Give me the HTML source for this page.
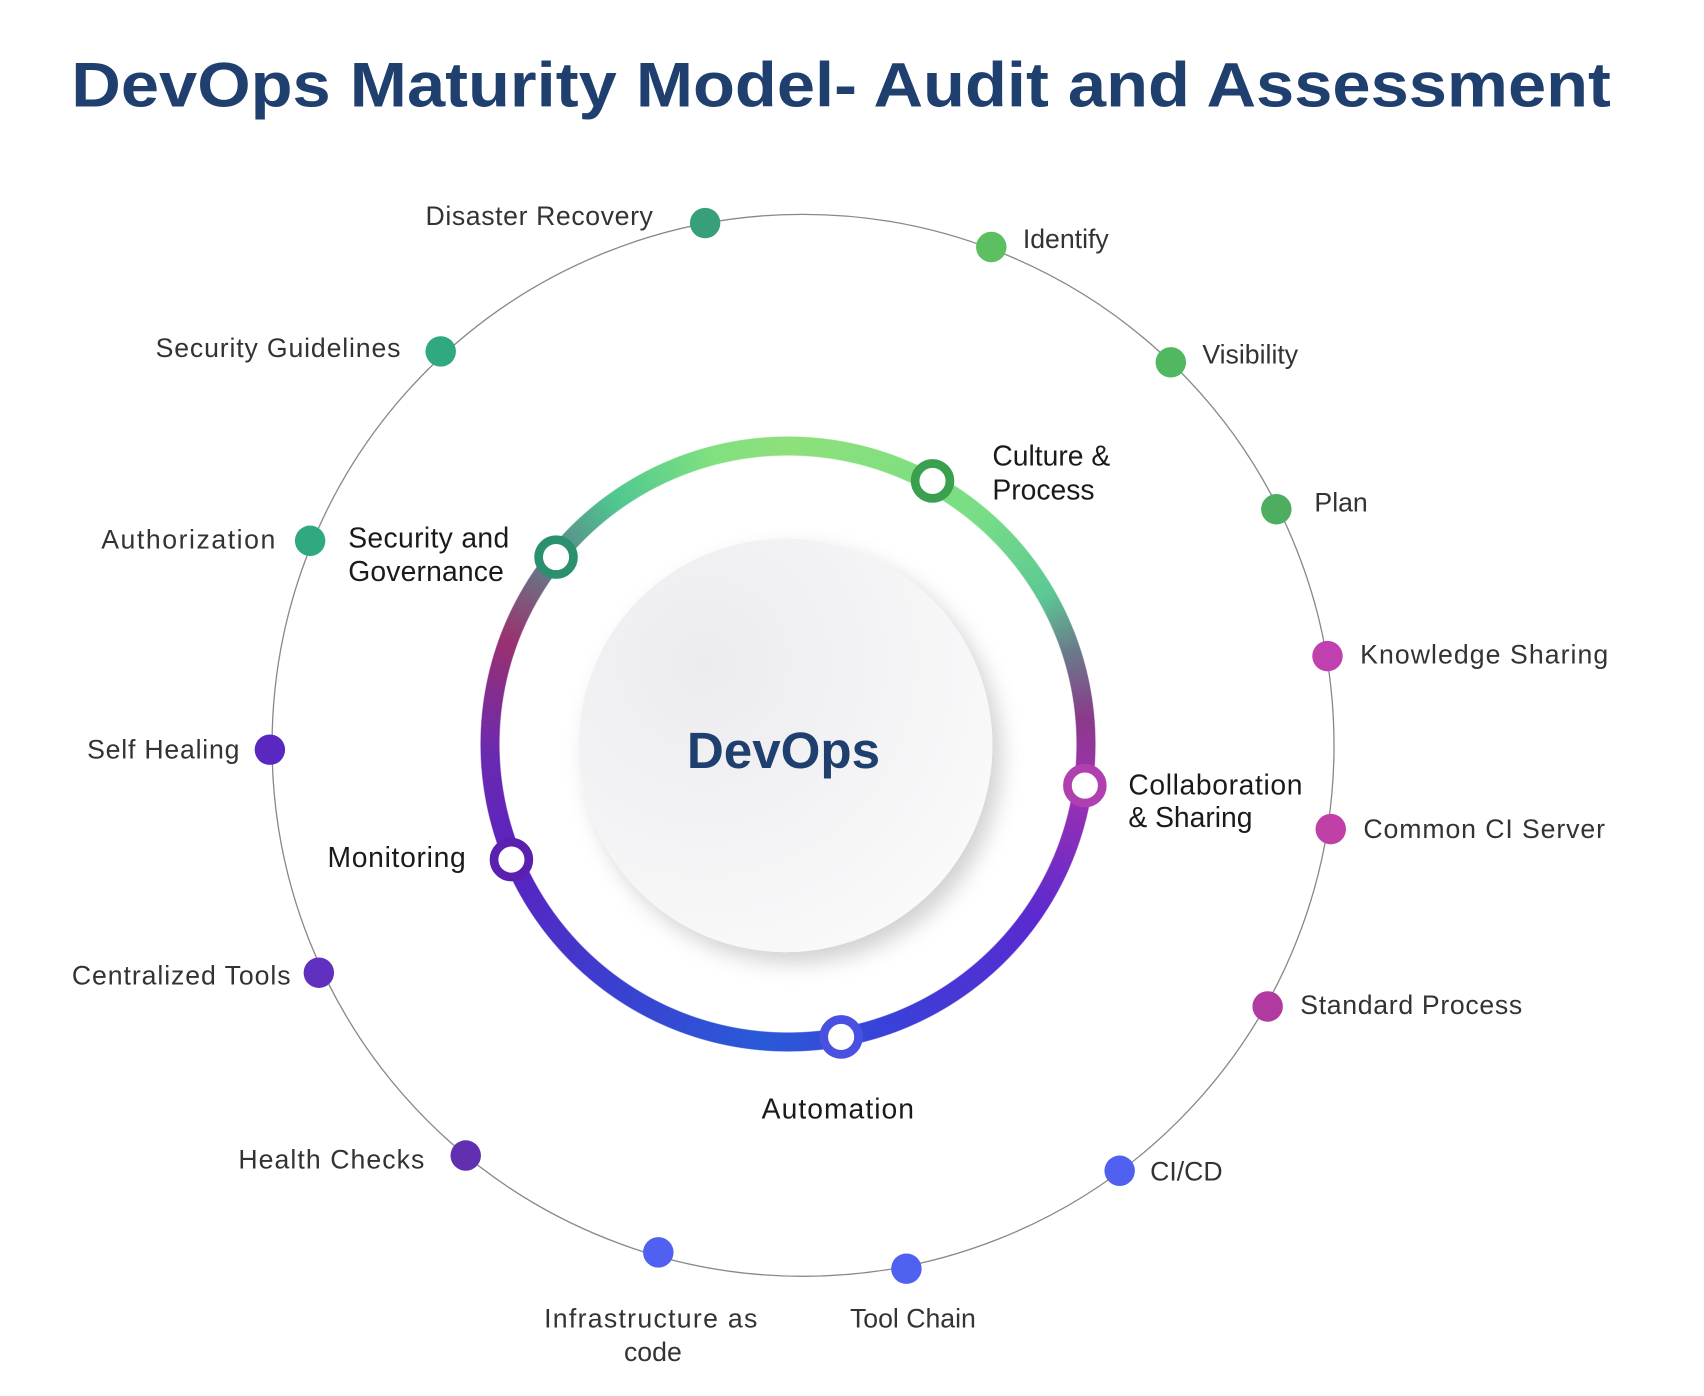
<!DOCTYPE html>
<html><head><meta charset="utf-8"><style>
html,body{margin:0;padding:0;background:#fff;}
#w{position:relative;width:1704px;height:1396px;overflow:hidden;background:#fff;}
#ring{position:absolute;left:480px;top:436px;width:616px;height:616px;border-radius:50%;
background:conic-gradient(from 0deg,#8ee07a 0deg,#78de86 40deg,#5cc894 60deg,#6a7a8a 72deg,#8a3a8a 85deg,#a030b0 98deg,#5a2ad0 125deg,#3a40d8 160deg,#2a5ad8 185deg,#3a40d0 215deg,#5a22c0 247deg,#6a2ab0 268deg,#9a3070 290deg,#5a8a8a 310deg,#50c890 325deg,#80e080 345deg,#8ee07a 360deg);
-webkit-mask:radial-gradient(circle,transparent 288px,#000 289px,#000 307px,transparent 308px);
mask:radial-gradient(circle,transparent 288px,#000 289px,#000 307px,transparent 308px);}
svg{position:absolute;left:0;top:0;}
text{font-family:"Liberation Sans",sans-serif;}
.o{font-size:24.5px;fill:#333;}
.i{font-size:26px;fill:#1a1a1a;}
</style></head><body><div id="w">
<div id="ring"></div>
<svg width="1704" height="1396" viewBox="0 0 1566 1283">
<defs>
<radialGradient id="disk" cx="0.3" cy="0.3" r="0.8"><stop offset="0" stop-color="#ececf0"/><stop offset="0.6" stop-color="#f4f4f6"/><stop offset="1" stop-color="#fafafa"/></radialGradient>
<filter id="sh" x="-30%" y="-30%" width="160%" height="160%"><feDropShadow dx="8" dy="10" stdDeviation="10" flood-color="#000" flood-opacity="0.18"/></filter>
</defs>
<text x="773" y="98" text-anchor="middle" font-size="58" font-weight="bold" fill="#1f3f6e" textLength="1415" lengthAdjust="spacingAndGlyphs">DevOps Maturity Model- Audit and Assessment</text>
<circle cx="738" cy="685" r="488" fill="none" stroke="#888" stroke-width="1.2"/>
<circle cx="722" cy="685" r="190" fill="url(#disk)" filter="url(#sh)"/>
<text x="720" y="706" text-anchor="middle" font-size="47" font-weight="bold" fill="#1f3f6e">DevOps</text>
<g stroke-width="8" fill="#fff">
<circle cx="857" cy="442" r="16" stroke="#3aa050"/>
<circle cx="511" cy="512" r="16" stroke="#2a9070"/>
<circle cx="997" cy="722" r="16" stroke="#b040b0"/>
<circle cx="470" cy="790" r="16" stroke="#5a20b0"/>
<circle cx="773" cy="953" r="16" stroke="#4a50e0"/>
</g>
<g>
<circle cx="648" cy="205" r="14" fill="#38a078"/>
<circle cx="911" cy="227" r="14" fill="#5cc060"/>
<circle cx="1076" cy="333" r="14" fill="#50b860"/>
<circle cx="1173" cy="468" r="14" fill="#4cae5e"/>
<circle cx="1220" cy="603" r="14" fill="#c040b0"/>
<circle cx="1223" cy="762" r="14" fill="#c040a8"/>
<circle cx="1165" cy="925" r="14" fill="#b03aa0"/>
<circle cx="1029" cy="1076" r="14" fill="#5060f0"/>
<circle cx="833" cy="1166" r="14" fill="#5060f0"/>
<circle cx="605" cy="1151" r="14" fill="#5060f0"/>
<circle cx="428" cy="1062" r="14" fill="#6030b0"/>
<circle cx="293" cy="894" r="14" fill="#6030c0"/>
<circle cx="248" cy="689" r="14" fill="#5a28c0"/>
<circle cx="285" cy="497" r="14" fill="#30a880"/>
<circle cx="405" cy="323" r="14" fill="#30a880"/>
</g>
<g>
<text class="o" x="600" y="207" text-anchor="end" textLength="209">Disaster Recovery</text>
<text class="o" x="940" y="228">Identify</text>
<text class="o" x="1105" y="334">Visibility</text>
<text class="o" x="1208" y="470">Plan</text>
<text class="o" x="1250" y="610" textLength="228">Knowledge Sharing</text>
<text class="o" x="1253" y="770" textLength="222">Common CI Server</text>
<text class="o" x="1195" y="932" textLength="204">Standard Process</text>
<text class="o" x="1057" y="1085">CI/CD</text>
<text class="o" x="839" y="1220" text-anchor="middle">Tool Chain</text>
<text class="o" x="598" y="1220" text-anchor="middle" textLength="196">Infrastructure as</text>
<text class="o" x="600" y="1251" text-anchor="middle">code</text>
<text class="o" x="390" y="1074" text-anchor="end" textLength="171">Health Checks</text>
<text class="o" x="267" y="905" text-anchor="end" textLength="201">Centralized Tools</text>
<text class="o" x="220" y="697" text-anchor="end" textLength="140">Self Healing</text>
<text class="o" x="253" y="504" text-anchor="end" textLength="160">Authorization</text>
<text class="o" x="368" y="328" text-anchor="end" textLength="225">Security Guidelines</text>
</g>
<text class="i" x="912" y="428">Culture &amp;</text>
<text class="i" x="912" y="459">Process</text>
<text class="i" x="320" y="503" textLength="148">Security and</text>
<text class="i" x="320" y="534" textLength="143">Governance</text>
<text class="i" x="1037" y="730" textLength="160">Collaboration</text>
<text class="i" x="1037" y="760">&amp; Sharing</text>
<text class="i" x="428" y="797" text-anchor="end" textLength="127">Monitoring</text>
<text class="i" x="770" y="1028" text-anchor="middle" textLength="140">Automation</text>
</svg>
</div></body></html>
